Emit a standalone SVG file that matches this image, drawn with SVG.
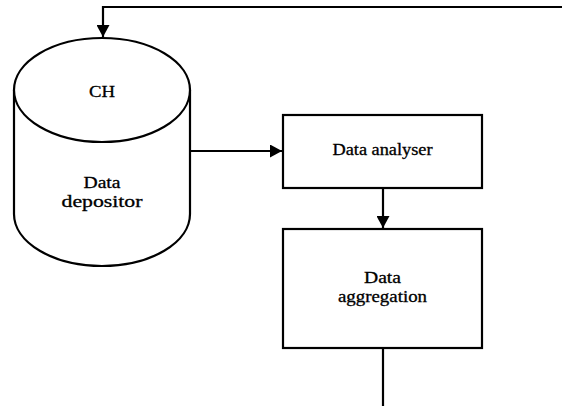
<svg xmlns="http://www.w3.org/2000/svg" width="562" height="406" viewBox="0 0 562 406">
<style>
.shape{fill:#fff;stroke:#000;stroke-width:2.2}
.line{fill:none;stroke:#000;stroke-width:2.2}
.t{font-family:'Liberation Serif','Times New Roman',serif;font-size:16px;fill:#000;text-anchor:middle;stroke:#000;stroke-width:0.3}
</style>
<defs>
<marker id="arr" viewBox="0 0 12 13" refX="12" refY="6.5" markerWidth="12" markerHeight="13" markerUnits="userSpaceOnUse" orient="auto">
<path d="M0,0 L12,6.5 L0,13 Z" fill="#000"/>
</marker>
</defs>
<g id="connectors">
<path class="line" d="M562,7 H103 V37" marker-end="url(#arr)"/>
<path class="line" d="M190,151 H282" marker-end="url(#arr)"/>
<path class="line" d="M383,188 V228" marker-end="url(#arr)"/>
<path class="line" d="M383,348 V406"/>
</g>
<g id="data-depositor">
<path class="shape" d="M14,90 V214 A88,52 0 0 0 190,214 V90"/>
<ellipse class="shape" cx="102" cy="90" rx="88" ry="52"/>
<text class="t" x="102" y="97" textLength="26" lengthAdjust="spacingAndGlyphs">CH</text>
<text class="t" x="102" y="188" textLength="37" lengthAdjust="spacingAndGlyphs">Data</text>
<text class="t" x="102" y="207" textLength="81" lengthAdjust="spacingAndGlyphs">depositor</text>
</g>
<g id="data-analyser">
<rect class="shape" x="283" y="115" width="199" height="73"/>
<text class="t" x="382.5" y="155" textLength="100" lengthAdjust="spacingAndGlyphs">Data analyser</text>
</g>
<g id="data-aggregation">
<rect class="shape" x="283" y="229" width="199" height="119"/>
<text class="t" x="382.5" y="283" textLength="37" lengthAdjust="spacingAndGlyphs">Data</text>
<text class="t" x="382.5" y="302" textLength="89" lengthAdjust="spacingAndGlyphs">aggregation</text>
</g>
</svg>
